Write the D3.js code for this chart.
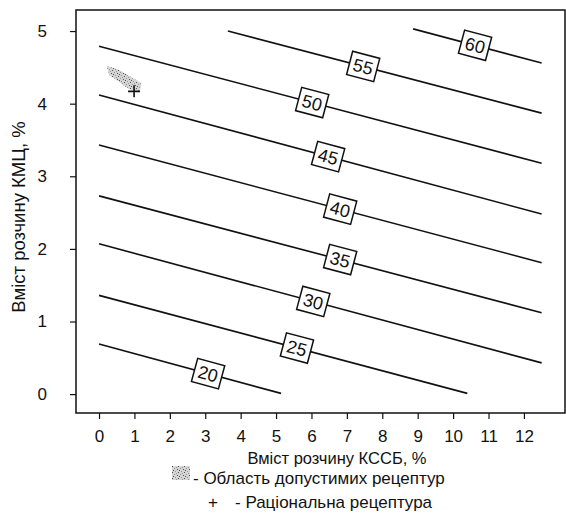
<!DOCTYPE html>
<html>
<head>
<meta charset="utf-8">
<script src="https://cdn.jsdelivr.net/npm/d3@7"></script>
<style>
  body { margin: 0; background: #fff; }
  text { font-family: "Liberation Sans", Arial, sans-serif; fill: #111; }
</style>
</head>
<body>
<div id="chart"></div>
<script>
// Contour levels and the two ends of each (nearly straight) contour line, in data units
var levels = [20, 25, 30, 35, 40, 45, 50, 55, 60];
var lineStarts = [[0, 0.69], [0, 1.36], [0, 2.07], [0, 2.73], [0, 3.43], [0, 4.12], [0, 4.79], [3.64, 5.0], [8.87, 5.03]];
var lineEnds = [[5.14, 0.01], [10.4, 0.01], [12.5, 0.43], [12.5, 1.12], [12.5, 1.81], [12.5, 2.48], [12.5, 3.18], [12.5, 3.87], [12.5, 4.56]];
// x position of each level's boxed label along its line
var labelX = [3.08, 5.59, 6.05, 6.81, 6.81, 6.47, 6.02, 7.46, 10.62];

// feasible region (shaded) and rational recipe (+)
var regionPoly = [[0.22, 4.52], [0.55, 4.47], [1.2, 4.28], [1.15, 4.17], [0.85, 4.2], [0.28, 4.4]];
var rationalPoint = [0.99, 4.17];

var xTicks = [0, 1, 2, 3, 4, 5, 6, 7, 8, 9, 10, 11, 12];
var yTicks = [0, 1, 2, 3, 4, 5];

var svgWidth = 566;
var svgHeight = 521;
var frame = { left: 76, top: 10, right: 565, bottom: 413 };

var svg = d3.select("#chart").append("svg")
    .attr("width", svgWidth)
    .attr("height", svgHeight);

var xScale = d3.scaleLinear().domain([-0.65, 13.16]).range([frame.left, frame.right]);
var yScale = d3.scaleLinear().domain([-0.26, 5.29]).range([frame.bottom, frame.top]);

// speckled grey fill for the feasible region
var defs = svg.append("defs");
var pat = defs.append("pattern")
    .attr("id", "speckle")
    .attr("patternUnits", "userSpaceOnUse")
    .attr("width", 6).attr("height", 6);
pat.append("rect").attr("width", 6).attr("height", 6).attr("fill", "#d4d4d4");
[[0, 0], [3, 1], [1, 3], [4, 4], [2, 5], [5, 2]].forEach(function(p, i) {
    pat.append("rect").attr("x", p[0]).attr("y", p[1]).attr("width", 1).attr("height", 1)
        .attr("fill", i % 2 ? "#555" : "#999");
});

// frame
svg.append("rect")
    .attr("x", frame.left).attr("y", frame.top)
    .attr("width", frame.right - frame.left).attr("height", frame.bottom - frame.top)
    .attr("fill", "none").attr("stroke", "#111").attr("stroke-width", 1.5);

// axes
var bottomAxis = d3.axisBottom(xScale).tickValues(xTicks).tickSize(6).tickPadding(11);
var leftAxis = d3.axisLeft(yScale).tickValues(yTicks).tickFormat(d3.format("d")).tickSize(6).tickPadding(23);

var gx = svg.append("g")
    .attr("transform", "translate(0," + frame.bottom + ")")
    .call(bottomAxis);
var gy = svg.append("g")
    .attr("transform", "translate(" + frame.left + ",0)")
    .call(leftAxis);
[gx, gy].forEach(function(g) {
    g.select(".domain").remove();
    g.selectAll("line").attr("stroke", "#111").attr("stroke-width", 1.2);
    g.selectAll("text").attr("font-size", "17px").attr("font-family", "Liberation Sans, Arial, sans-serif").attr("fill", "#111");
});

// contour lines
var lineGen = d3.line().x(function(d) { return xScale(d[0]); }).y(function(d) { return yScale(d[1]); });
var plot = svg.append("g");

levels.forEach(function(lev, i) {
    var a = lineStarts[i], b = lineEnds[i];
    plot.append("path")
        .attr("d", lineGen([a, b]))
        .attr("fill", "none")
        .attr("stroke", "#111")
        .attr("stroke-width", 1.6);
});

levels.forEach(function(lev, i) {
    var a = lineStarts[i], b = lineEnds[i];
    var t = (labelX[i] - a[0]) / (b[0] - a[0]);
    var ly = a[1] + t * (b[1] - a[1]);
    var px = xScale(labelX[i]), py = yScale(ly);
    var ang = Math.atan2(yScale(b[1]) - yScale(a[1]), xScale(b[0]) - xScale(a[0])) * 180 / Math.PI;
    var g = plot.append("g").attr("transform", "translate(" + px + "," + py + ") rotate(" + ang + ")");
    g.append("rect")
        .attr("x", -14).attr("y", -12).attr("width", 28).attr("height", 24)
        .attr("fill", "#fff").attr("stroke", "#111").attr("stroke-width", 1.5);
    g.append("text")
        .attr("text-anchor", "middle")
        .attr("y", 6.5)
        .attr("font-size", "18px")
        .text(lev);
});

// feasible region
plot.append("path")
    .attr("d", lineGen(regionPoly) + "Z")
    .attr("fill", "url(#speckle)")
    .attr("stroke", "none");

// rational recipe
var rx = xScale(rationalPoint[0]), ry = yScale(rationalPoint[1]);
plot.append("path")
    .attr("d", "M" + (rx - 6) + "," + ry + "H" + (rx + 6) + "M" + rx + "," + (ry - 6) + "V" + (ry + 6))
    .attr("stroke", "#111").attr("stroke-width", 1.6);

// axis titles
svg.append("text")
    .attr("x", 337).attr("y", 464)
    .attr("text-anchor", "middle")
    .attr("font-size", "16.5px")
    .text("Вміст розчину КССБ, %");

svg.append("text")
    .attr("transform", "translate(25,217) rotate(-90)")
    .attr("text-anchor", "middle")
    .attr("font-size", "18.5px")
    .text("Вміст розчину КМЦ, %");

// legend
svg.append("rect")
    .attr("x", 172).attr("y", 466).attr("width", 18).attr("height", 14)
    .attr("fill", "url(#speckle)");
svg.append("text")
    .attr("x", 193).attr("y", 484)
    .attr("font-size", "17px")
    .text("- Область допустимих рецептур");
svg.append("text")
    .attr("x", 213).attr("y", 508)
    .attr("text-anchor", "middle")
    .attr("font-size", "17px")
    .text("+");
svg.append("text")
    .attr("x", 235).attr("y", 508)
    .attr("font-size", "17px")
    .text("- Раціональна рецептура");
</script>
</body>
</html>
